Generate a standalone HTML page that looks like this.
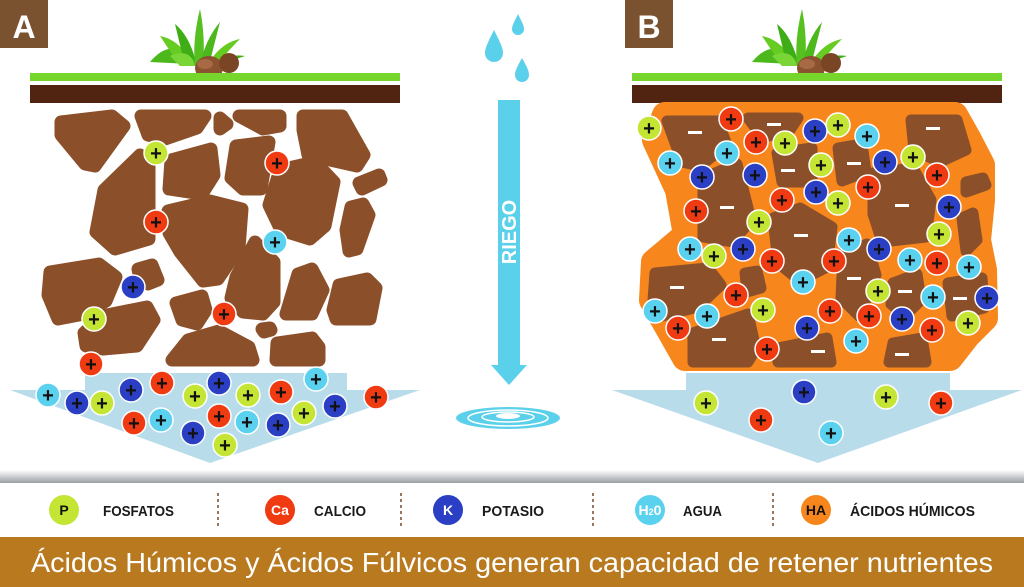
<!DOCTYPE html>
<html><head><meta charset="utf-8"><style>
html,body{margin:0;padding:0;background:#fff;}
svg{display:block;}
.t{font-family:"Liberation Sans Narrow","Liberation Sans",sans-serif;font-weight:bold;}
</style></head><body>
<svg width="1024" height="587" viewBox="0 0 1024 587" xmlns="http://www.w3.org/2000/svg">
<defs>
<linearGradient id="sh" x1="0" y1="0" x2="0" y2="1"><stop offset="0" stop-color="#fff"/><stop offset="1" stop-color="#9a9ea4"/></linearGradient>
<g id="plant">
<path d="M-45,18 C-30,0 -15,0 -5,20 Z" fill="#4cb81c"/>
<path d="M-35,-8 C-20,-5 -10,5 -2,22 L-15,22 Z" fill="#66cc22"/>
<path d="M-20,-20 C-8,-10 -2,5 2,22 L-10,22 Z" fill="#3fae16"/>
<path d="M5,-35 C0,-15 -2,5 0,22 L8,22 C10,0 8,-20 5,-35 Z" fill="#55c020"/>
<path d="M25,-22 C15,-10 8,5 5,22 L14,22 C18,5 22,-10 25,-22 Z" fill="#4cb81c"/>
<path d="M45,-5 C30,-2 20,8 12,22 L22,22 C30,10 38,2 45,-5 Z" fill="#66cc22"/>
<path d="M50,12 C35,10 25,15 20,22 Z" fill="#3fae16"/>
<path d="M-25,12 C-10,5 -2,12 0,22 L-15,22 Z" fill="#7ad636"/>
<ellipse cx="14" cy="24" rx="14" ry="12" fill="#8b5230"/>
<ellipse cx="34" cy="19" rx="10" ry="10" fill="#7a4524"/>
<ellipse cx="10" cy="20" rx="8" ry="5" fill="#a86a45"/>
</g>
</defs>

<!-- Panel A -->
<rect x="0" y="0" width="48" height="48" fill="#7b5230"/>
<text x="24" y="38" text-anchor="middle" font-family="Liberation Sans,sans-serif" font-weight="bold" font-size="32" fill="#fff">A</text>
<use href="#plant" x="195" y="44"/>
<rect x="30" y="73" width="370" height="8" fill="#77d62c"/>
<rect x="30" y="85" width="370" height="18" fill="#512412"/>
<g fill="#8b4f2a" stroke="#8b4f2a" stroke-width="13" stroke-linejoin="round">
<polygon points="61,122 112,116 124,126 95,166 85,164 61,135"/>
<polygon points="141,116 205,116 197,128 165,139 148,135"/>
<polygon points="220,118 227,124 220,129"/>
<polygon points="239,116 280,116 280,126 263,129"/>
<polygon points="303,116 342,116 364,155 357,166 308,155 303,130"/>
<polygon points="104,190 140,155 149,163 149,239 115,249 96,232"/>
<polygon points="171,160 211,149 214,175 202,194 169,189"/>
<polygon points="236,146 269,142 261,189 243,189 231,178"/>
<polygon points="280,170 315,162 334,182 325,226 310,239 281,230 269,205"/>
<polygon points="359,183 379,175 381,180 362,189"/>
<polygon points="351,207 363,204 369,215 357,249 349,251 346,230"/>
<polygon points="168,211 210,201 242,209 239,248 218,279 203,281 180,252 169,233"/>
<polygon points="50,272 99,264 116,277 106,301 84,314 58,319 48,295"/>
<polygon points="138,269 152,265 158,280 148,284 140,279"/>
<polygon points="236,277 255,242 274,262 274,302 263,314 243,312 231,298"/>
<polygon points="286,314 298,274 312,269 323,290 312,314"/>
<polygon points="339,285 367,279 376,288 370,319 336,319 333,310"/>
<polygon points="84,333 102,316 147,307 154,320 137,346 103,349 86,346"/>
<polygon points="176,303 202,296 206,310 197,324 182,320"/>
<polygon points="172,360 188,340 219,331 249,347 253,360"/>
<polygon points="262,329 270,328 271,330 264,332"/>
<polygon points="276,360 277,343 312,338 319,347 319,360"/>
</g>
<polygon points="85,373 347,373 347,390 420,390 210,463 10,390 85,390" fill="#b8dcea"/>

<!-- Panel B -->
<rect x="625" y="0" width="48" height="48" fill="#7b5230"/>
<text x="649" y="38" text-anchor="middle" font-family="Liberation Sans,sans-serif" font-weight="bold" font-size="32" fill="#fff">B</text>
<use href="#plant" x="797" y="44"/>
<rect x="632" y="73" width="370" height="8" fill="#77d62c"/>
<rect x="632" y="85" width="370" height="18" fill="#512412"/>
<polygon points="665,115 955,115 968,138 982,165 982,200 978,240 984,270 985,318 968,335 950,358 685,358 668,328 652,300 654,262 686,235 678,190 655,140" fill="#f7861c" stroke="#f7861c" stroke-width="26" stroke-linejoin="round"/>
<g fill="#8b4f2a" stroke="#8b4f2a" stroke-width="11" stroke-linejoin="round">
<polygon points="667,121 718,121 727,145 700,166 682,162"/>
<polygon points="748,118 798,118 788,133 762,137"/>
<polygon points="777,153 812,148 812,182 782,182"/>
<polygon points="838,148 862,144 866,172 842,181"/>
<polygon points="911,120 957,120 966,150 940,162 914,150"/>
<polygon points="703,178 737,164 751,220 733,242 703,237"/>
<polygon points="773,218 800,208 832,227 827,267 800,281 778,263"/>
<polygon points="873,173 913,168 931,200 926,237 882,242 873,214"/>
<polygon points="966,182 983,178 986,185 966,192"/>
<polygon points="962,218 973,213 977,240 966,251"/>
<polygon points="655,273 708,268 721,285 698,307 662,316 653,300"/>
<polygon points="745,273 757,271 761,288 747,292"/>
<polygon points="843,253 867,244 876,275 859,316 841,298"/>
<polygon points="893,283 917,274 921,300 905,316 891,304"/>
<polygon points="948,283 982,278 984,308 952,316"/>
<polygon points="693,333 748,314 756,349 748,362 693,362"/>
<polygon points="778,348 827,338 831,362 778,362"/>
<polygon points="893,343 922,338 926,362 889,362"/>
</g>
<g fill="#fff">
<rect x="688" y="131" width="14" height="3"/><rect x="767" y="123" width="14" height="3"/>
<rect x="781" y="169" width="14" height="3"/><rect x="847" y="162" width="14" height="3"/>
<rect x="926" y="127" width="14" height="3"/><rect x="720" y="206" width="14" height="3"/>
<rect x="794" y="234" width="14" height="3"/><rect x="895" y="204" width="14" height="3"/>
<rect x="670" y="286" width="14" height="3"/><rect x="847" y="277" width="14" height="3"/>
<rect x="898" y="290" width="14" height="3"/><rect x="953" y="297" width="14" height="3"/>
<rect x="712" y="338" width="14" height="3"/><rect x="811" y="350" width="14" height="3"/>
<rect x="895" y="353" width="14" height="3"/>
</g>
<polygon points="686,373 950,373 950,390 1022,390 818,463 612,390 686,390" fill="#b8dcea"/>

<!-- Center -->
<path d="M518,14 C522,22 524,26 524,29 A6,6 0 0 1 512,29 C512,26 514,22 518,14 Z" fill="#5bd0ea"/>
<path d="M494,30 C500,42 503,48 503,53 A9,9 0 0 1 485,53 C485,48 488,42 494,30 Z" fill="#5bd0ea"/>
<path d="M522,58 C527,67 529,71 529,75 A7,7 0 0 1 515,75 C515,71 517,67 522,58 Z" fill="#5bd0ea"/>
<rect x="498" y="100" width="22" height="265" fill="#5bd0ea"/>
<polygon points="491,365 527,365 509,385" fill="#5bd0ea"/>
<text transform="translate(516,232) rotate(-90)" text-anchor="middle" font-family="Liberation Sans,sans-serif" font-weight="bold" font-size="20" fill="#fff">RIEGO</text>
<ellipse cx="508" cy="418" rx="52" ry="11" fill="#5bd0ea"/>
<ellipse cx="508" cy="418" rx="40" ry="8" fill="none" stroke="#fff" stroke-width="1.5"/>
<ellipse cx="508" cy="417" rx="26" ry="5" fill="none" stroke="#fff" stroke-width="1.5"/>
<ellipse cx="508" cy="416" rx="12" ry="3" fill="#fff"/>

<!-- Ions -->
<g stroke="#fff" stroke-width="1.5">
<g fill="#c4e534"><circle cx="156" cy="153" r="12"/><circle cx="94" cy="319" r="12"/><circle cx="102" cy="403" r="12"/><circle cx="195" cy="396" r="12"/><circle cx="225" cy="445" r="12"/><circle cx="248" cy="395" r="12"/><circle cx="304" cy="413" r="12"/>
<circle cx="649" cy="128" r="12"/><circle cx="785" cy="143" r="12"/><circle cx="838" cy="125" r="12"/><circle cx="821" cy="165" r="12"/><circle cx="913" cy="157" r="12"/><circle cx="838" cy="203" r="12"/><circle cx="759" cy="222" r="12"/><circle cx="939" cy="234" r="12"/><circle cx="714" cy="256" r="12"/><circle cx="763" cy="310" r="12"/><circle cx="878" cy="291" r="12"/><circle cx="968" cy="323" r="12"/><circle cx="706" cy="403" r="12"/><circle cx="886" cy="397" r="12"/></g>
<g fill="#f03a12"><circle cx="277" cy="163" r="12"/><circle cx="156" cy="222" r="12"/><circle cx="224" cy="314" r="12"/><circle cx="91" cy="364" r="12"/><circle cx="162" cy="383" r="12"/><circle cx="134" cy="423" r="12"/><circle cx="219" cy="416" r="12"/><circle cx="281" cy="392" r="12"/><circle cx="376" cy="397" r="12"/>
<circle cx="731" cy="119" r="12"/><circle cx="756" cy="142" r="12"/><circle cx="937" cy="175" r="12"/><circle cx="868" cy="187" r="12"/><circle cx="696" cy="211" r="12"/><circle cx="782" cy="200" r="12"/><circle cx="772" cy="261" r="12"/><circle cx="834" cy="261" r="12"/><circle cx="937" cy="263" r="12"/><circle cx="678" cy="328" r="12"/><circle cx="736" cy="295" r="12"/><circle cx="830" cy="311" r="12"/><circle cx="932" cy="330" r="12"/><circle cx="767" cy="349" r="12"/><circle cx="869" cy="316" r="12"/><circle cx="761" cy="420" r="12"/><circle cx="941" cy="403" r="12"/></g>
<g fill="#2a3fc4"><circle cx="133" cy="287" r="12"/><circle cx="77" cy="403" r="12"/><circle cx="131" cy="390" r="12"/><circle cx="193" cy="433" r="12"/><circle cx="219" cy="383" r="12"/><circle cx="278" cy="425" r="12"/><circle cx="335" cy="406" r="12"/>
<circle cx="815" cy="131" r="12"/><circle cx="702" cy="177" r="12"/><circle cx="755" cy="175" r="12"/><circle cx="885" cy="162" r="12"/><circle cx="816" cy="192" r="12"/><circle cx="949" cy="207" r="12"/><circle cx="743" cy="249" r="12"/><circle cx="879" cy="249" r="12"/><circle cx="807" cy="328" r="12"/><circle cx="902" cy="319" r="12"/><circle cx="987" cy="298" r="12"/><circle cx="804" cy="392" r="12"/></g>
<g fill="#5ad2ef"><circle cx="275" cy="242" r="12"/><circle cx="48" cy="395" r="12"/><circle cx="161" cy="420" r="12"/><circle cx="247" cy="422" r="12"/><circle cx="316" cy="379" r="12"/>
<circle cx="670" cy="163" r="12"/><circle cx="727" cy="153" r="12"/><circle cx="867" cy="136" r="12"/><circle cx="690" cy="249" r="12"/><circle cx="849" cy="240" r="12"/><circle cx="910" cy="260" r="12"/><circle cx="969" cy="267" r="12"/><circle cx="655" cy="311" r="12"/><circle cx="707" cy="316" r="12"/><circle cx="803" cy="282" r="12"/><circle cx="933" cy="297" r="12"/><circle cx="856" cy="341" r="12"/><circle cx="831" cy="433" r="12"/></g>
</g>
<g font-family="Liberation Sans,sans-serif" font-weight="bold" font-size="20" fill="#111" text-anchor="middle">
<text x="156" y="160">+</text><text x="94" y="326">+</text><text x="102" y="410">+</text><text x="195" y="403">+</text><text x="225" y="452">+</text><text x="248" y="402">+</text><text x="304" y="420">+</text>
<text x="649" y="135">+</text><text x="785" y="150">+</text><text x="838" y="132">+</text><text x="821" y="172">+</text><text x="913" y="164">+</text><text x="838" y="210">+</text><text x="759" y="229">+</text><text x="939" y="241">+</text><text x="714" y="263">+</text><text x="763" y="317">+</text><text x="878" y="298">+</text><text x="968" y="330">+</text><text x="706" y="410">+</text><text x="886" y="404">+</text>
<text x="277" y="170">+</text><text x="156" y="229">+</text><text x="224" y="321">+</text><text x="91" y="371">+</text><text x="162" y="390">+</text><text x="134" y="430">+</text><text x="219" y="423">+</text><text x="281" y="399">+</text><text x="376" y="404">+</text>
<text x="731" y="126">+</text><text x="756" y="149">+</text><text x="937" y="182">+</text><text x="868" y="194">+</text><text x="696" y="218">+</text><text x="782" y="207">+</text><text x="772" y="268">+</text><text x="834" y="268">+</text><text x="937" y="270">+</text><text x="678" y="335">+</text><text x="736" y="302">+</text><text x="830" y="318">+</text><text x="932" y="337">+</text><text x="767" y="356">+</text><text x="869" y="323">+</text><text x="761" y="427">+</text><text x="941" y="410">+</text>
<text x="133" y="294">+</text><text x="77" y="410">+</text><text x="131" y="397">+</text><text x="193" y="440">+</text><text x="219" y="390">+</text><text x="278" y="432">+</text><text x="335" y="413">+</text>
<text x="815" y="138">+</text><text x="702" y="184">+</text><text x="755" y="182">+</text><text x="885" y="169">+</text><text x="816" y="199">+</text><text x="949" y="214">+</text><text x="743" y="256">+</text><text x="879" y="256">+</text><text x="807" y="335">+</text><text x="902" y="326">+</text><text x="987" y="305">+</text><text x="804" y="399">+</text>
<text x="275" y="249">+</text><text x="48" y="402">+</text><text x="161" y="427">+</text><text x="247" y="429">+</text><text x="316" y="386">+</text>
<text x="670" y="170">+</text><text x="727" y="160">+</text><text x="867" y="143">+</text><text x="690" y="256">+</text><text x="849" y="247">+</text><text x="910" y="267">+</text><text x="969" y="274">+</text><text x="655" y="318">+</text><text x="707" y="323">+</text><text x="803" y="289">+</text><text x="933" y="304">+</text><text x="856" y="348">+</text><text x="831" y="440">+</text>
</g>

<!-- Legend -->
<rect x="0" y="470" width="1024" height="13" fill="url(#sh)"/>
<rect x="0" y="483" width="1024" height="54" fill="#fff"/>
<g stroke="#7a4a2a" stroke-width="1.5" stroke-dasharray="3,3">
<line x1="218" y1="493" x2="218" y2="527"/><line x1="401" y1="493" x2="401" y2="527"/><line x1="593" y1="493" x2="593" y2="527"/><line x1="773" y1="493" x2="773" y2="527"/>
</g>
<circle cx="64" cy="510" r="15" fill="#c4e534"/>
<circle cx="280" cy="510" r="15" fill="#f03a12"/>
<circle cx="448" cy="510" r="15" fill="#2a3fc4"/>
<circle cx="650" cy="510" r="15" fill="#5ad2ef"/>
<circle cx="816" cy="510" r="15" fill="#f7861c"/>
<g class="t" font-size="14" text-anchor="middle">
<text x="64" y="515" fill="#111">P</text>
<text x="280" y="515" fill="#fff">Ca</text>
<text x="448" y="515" fill="#fff">K</text>
<text x="650" y="515" fill="#fff">H<tspan font-size="9">2</tspan>0</text>
<text x="816" y="515" fill="#111">HA</text>
</g>
<g class="t" font-size="15" fill="#1a1a1a">
<text x="103" y="516" textLength="71" lengthAdjust="spacingAndGlyphs">FOSFATOS</text>
<text x="314" y="516" textLength="52" lengthAdjust="spacingAndGlyphs">CALCIO</text>
<text x="482" y="516" textLength="62" lengthAdjust="spacingAndGlyphs">POTASIO</text>
<text x="683" y="516" textLength="39" lengthAdjust="spacingAndGlyphs">AGUA</text>
<text x="850" y="516" textLength="125" lengthAdjust="spacingAndGlyphs">ÁCIDOS HÚMICOS</text>
</g>
<rect x="0" y="537" width="1024" height="50" fill="#b8791f"/>
<text x="512" y="572" text-anchor="middle" font-family="Liberation Sans Narrow,Liberation Sans,sans-serif" font-size="28" fill="#fff" textLength="962" lengthAdjust="spacingAndGlyphs">Ácidos Húmicos y Ácidos Fúlvicos generan capacidad de retener nutrientes</text>
</svg>
</body></html>
